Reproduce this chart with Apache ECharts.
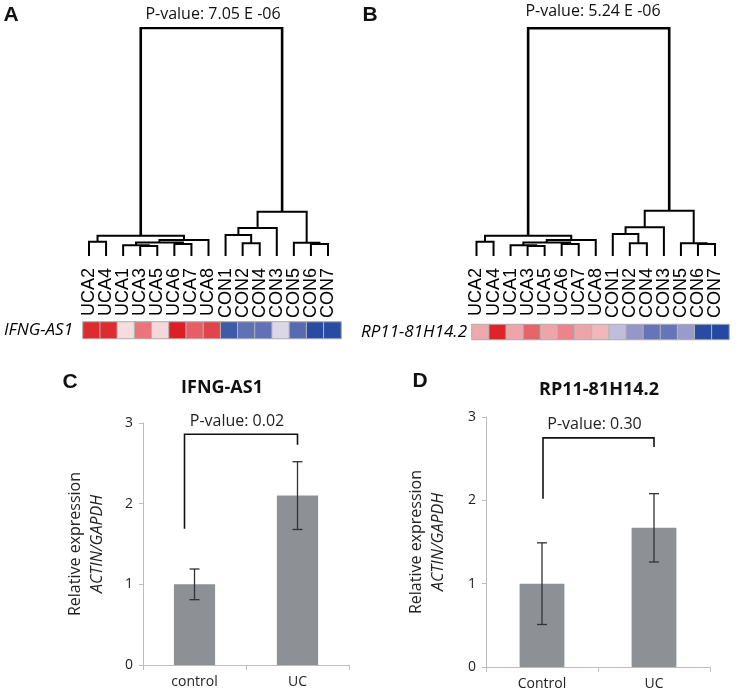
<!DOCTYPE html>
<html><head><meta charset="utf-8">
<script src="https://cdn.jsdelivr.net/npm/echarts@6/dist/echarts.min.js"></script>
<style>html,body{margin:0;padding:0;background:#fff}#c{width:737px;height:692px}</style>
</head><body><div id="c"></div>
<script>
// ---------- data ----------
const leafNames = ['UCA2','UCA4','UCA1','UCA3','UCA5','UCA6','UCA7','UCA8','CON1','CON2','CON4','CON3','CON5','CON6','CON7'];
// merges: [childA, childB, height]; node ids: leaves 0..14, merges 15..
const mergesA = [[3,4,10],[2,15,10.8],[5,6,12],[16,17,13.5],[0,1,14.3],[18,7,16],[19,20,20.3],[9,10,12.7],[8,22,21],[23,11,28],[13,14,12],[12,25,13.3],[24,26,44.3],[21,27,228]];
const mergesB = [[3,4,10],[2,15,10.8],[5,6,12],[16,17,13.5],[0,1,14.3],[18,7,16],[19,20,20.3],[9,10,12.7],[8,22,22],[23,11,28.7],[13,14,12],[12,25,12.7],[24,26,45.3],[21,27,227.7]];
const heatA = [1.9,1.9,0.2,1.2,0.25,2.0,1.4,1.65,-1.75,-1.4,-1.4,-0.25,-1.5,-1.95,-1.95];
const heatB = [0.7,1.95,0.75,1.35,0.75,1.05,0.75,0.55,-0.5,-0.9,-1.35,-1.35,-0.85,-1.95,-2.0];
const geneA = 'IFNG-AS1', geneB = 'RP11-81H14.2';
const pvalA = 'P-value: 7.05 E -06', pvalB = 'P-value: 5.24 E -06';
const catsC = ['control','UC'], catsD = ['Control','UC'];
const meanC = [1.0, 2.1], sdC = [0.19, 0.42];
const meanD = [1.0, 1.67], sdD = [0.49, 0.41];
const bracketC = [1.69, 2.86, 2.73];   // left leg bottom, top, right leg bottom
const bracketD = [2.02, 2.75, 2.64];
const pC = 'P-value: 0.02', pD = 'P-value: 0.30';
const yTicks = [0, 1, 2, 3];

// ---------- helpers ----------
function dendro(merges){
  const n = leafNames.length, pos = [], hgt = [], links = [];
  for (let i = 0; i < n; i++){ pos[i] = i; hgt[i] = 0; }
  merges.forEach((m, k) => {
    const [a, b, h] = m, id = n + k;
    const item = {coords: [[pos[a], hgt[a]], [pos[a], h], [pos[b], h], [pos[b], hgt[b]]]};
    if (k === merges.length - 1) item.lineStyle = {width: 2.6};
    links.push(item);
    pos[id] = (pos[a] + pos[b]) / 2; hgt[id] = h;
  });
  return links;
}
const FONT = 'Open Sans';
function dendroAxes(grid){
  return {
    x: {type:'value', gridIndex:grid, min:0, max:leafNames.length-1, show:false},
    lab: {type:'category', gridIndex:grid, data:leafNames, boundaryGap:false, position:'bottom',
        axisLine:{show:false}, axisTick:{show:false}, splitLine:{show:false},
        axisLabel:{interval:0, rotate:90, margin:12, fontSize:18,
                   fontFamily:'Liberation Sans', color:'#000'}},
    y: {type:'value', gridIndex:grid, min:0, max:228, show:false}
  };
}
function heatAxes(grid, gene, margin){
  return {
    x: {type:'category', gridIndex:grid, data:leafNames, show:false},
    y: {type:'category', gridIndex:grid, data:[gene],
        axisLine:{show:false}, axisTick:{show:false},
        axisLabel:{fontSize:17, fontStyle:'italic', fontFamily:FONT, color:'#000', margin:margin}}
  };
}
function barAxes(grid, cats, gap){
  return {
    x: {type:'category', gridIndex:grid, data:cats,
        axisLine:{lineStyle:{color:'#bdbdbd'}}, axisTick:{show:true, length:5, lineStyle:{color:'#bdbdbd'}},
        axisLabel:{fontSize:14, fontFamily:FONT, color:'#222', margin:10}},
    y: {type:'value', gridIndex:grid, min:yTicks[0], max:yTicks[yTicks.length-1], interval:1,
        splitLine:{show:false},
        axisLine:{show:true, lineStyle:{color:'#bdbdbd'}},
        axisTick:{show:true, length:4, lineStyle:{color:'#bdbdbd'}},
        axisLabel:{fontSize:14, fontFamily:FONT, color:'#222', margin:10},
        name:'{a|Relative expression}\n{b|ACTIN/GAPDH}', nameLocation:'middle', nameRotate:90, nameGap:gap,
        nameTextStyle:{rich:{a:{fontSize:16, fontFamily:FONT, color:'#222', lineHeight:22},
                             b:{fontSize:16, fontFamily:FONT, fontStyle:'italic', color:'#222', lineHeight:22}}}}
  };
}
function errSeries(ax, mean, sd){
  return {type:'custom', xAxisIndex:ax, yAxisIndex:ax, z:10, silent:true,
    data: mean.map((m, i) => [i, m - sd[i], m + sd[i]]),
    encode:{x:0, y:[1,2]},
    renderItem:(p, api) => {
      const lo = api.coord([api.value(0), api.value(1)]);
      const hi = api.coord([api.value(0), api.value(2)]);
      const w = 5, st = {stroke:'#333', lineWidth:1.3};
      return {type:'group', children:[
        {type:'line', shape:{x1:lo[0], y1:lo[1], x2:hi[0], y2:hi[1]}, style:st},
        {type:'line', shape:{x1:lo[0]-w, y1:lo[1], x2:lo[0]+w, y2:lo[1]}, style:st},
        {type:'line', shape:{x1:hi[0]-w, y1:hi[1], x2:hi[0]+w, y2:hi[1]}, style:st}]};
    }};
}
function bracketSeries(ax, br, label, dxL){
  return {type:'custom', xAxisIndex:ax, yAxisIndex:ax, z:10, silent:true,
    data:[[0, br[0], br[1], 1, br[2]]],
    encode:{x:[0,3], y:[1,2,4]},
    renderItem:(p, api) => {
      const a = api.coord([0, api.value(1)]), t0 = api.coord([0, api.value(2)]);
      const t1 = api.coord([1, api.value(2)]), b = api.coord([1, api.value(4)]);
      const xl = a[0] + dxL;
      return {type:'group', children:[
        {type:'polyline', shape:{points:[[xl, a[1]], [xl, t0[1]], [b[0], t1[1]], [b[0], b[1]]]},
         style:{stroke:'#111', lineWidth:1.6, fill:null}},
        {type:'text', x:(xl + b[0]) / 2 - 4, y:t0[1] - 13,
         style:{text:label, fontSize:16, fontFamily:FONT, fill:'#222', align:'center', verticalAlign:'middle',
                textAlign:'center', textVerticalAlign:'middle'}}]};
    }};
}
function txt(text, x, y, size, weight, family){
  return {type:'text', x:x, y:y, silent:true,
    style:{text:text, fontSize:size, fontWeight:weight || 'normal', fontFamily:family || FONT, fill:'#111',
           align:'center', verticalAlign:'middle', textAlign:'center', textVerticalAlign:'middle'}};
}

// ---------- axes ----------
const dA = dendroAxes(0), dB = dendroAxes(1);
const hA = heatAxes(2, geneA, 10), hB = heatAxes(3, geneB, 5);
const bC = barAxes(4, catsC, 35), bD = barAxes(5, catsD, 37);

const option = {
  animation:false,
  backgroundColor:'#fff',
  grid:[
    {left:89, right:737-328, top:28, height:228},
    {left:476.5, right:22, top:28, height:228},
    {left:83, right:737-341, top:322, height:16.5, show:true, borderColor:'#8a8a8a', borderWidth:1, backgroundColor:'transparent'},
    {left:472, right:737-729, top:324.5, height:15, show:true, borderColor:'#8a8a8a', borderWidth:1, backgroundColor:'transparent'},
    {left:143, right:737-349, top:423, bottom:692-665},
    {left:486, right:737-710, top:417, bottom:692-667}
  ],
  xAxis:[dA.x, dB.x, hA.x, hB.x, bC.x, bD.x, dA.lab, dB.lab],
  yAxis:[dA.y, dB.y, hA.y, hB.y, bC.y, bD.y],
  visualMap:[{type:'continuous', show:false, min:-2, max:2, seriesIndex:[2,3],
    inRange:{color:['#2449a0','#8a8cc4','#f7f0f2','#ec8a90','#dc1f26']}}],
  series:[
    {type:'lines', coordinateSystem:'cartesian2d', xAxisIndex:0, yAxisIndex:0, polyline:true, silent:true,
     data:dendro(mergesA), lineStyle:{color:'#000', width:2, opacity:1}},
    {type:'lines', coordinateSystem:'cartesian2d', xAxisIndex:1, yAxisIndex:1, polyline:true, silent:true,
     data:dendro(mergesB), lineStyle:{color:'#000', width:2, opacity:1}},
    {type:'heatmap', xAxisIndex:2, yAxisIndex:2, silent:true,
     data:heatA.map((v, i) => [i, 0, v]), itemStyle:{borderColor:'#b4b4b4', borderWidth:1}},
    {type:'heatmap', xAxisIndex:3, yAxisIndex:3, silent:true,
     data:heatB.map((v, i) => [i, 0, v]), itemStyle:{borderColor:'#b4b4b4', borderWidth:1}},
    {type:'bar', xAxisIndex:4, yAxisIndex:4, data:meanC, barWidth:'40%', itemStyle:{color:'#8d9094'}, silent:true},
    {type:'bar', xAxisIndex:5, yAxisIndex:5, data:meanD, barWidth:'40%', itemStyle:{color:'#8d9094'}, silent:true},
    errSeries(4, meanC, sdC),
    errSeries(5, meanD, sdD),
    bracketSeries(4, bracketC, pC, -10),
    bracketSeries(5, bracketD, pD, 1)
  ],
  graphic:[
    txt('A', 11, 15, 21, 'bold', 'Liberation Sans'),
    txt('B', 370, 15, 21, 'bold', 'Liberation Sans'),
    txt('C', 70, 382, 21, 'bold', 'Liberation Sans'),
    txt('D', 420, 381, 21, 'bold', 'Liberation Sans'),
    txt(pvalA, 213, 14, 16),
    txt(pvalB, 593, 11, 16),
    txt(geneA, 222, 388, 18, 'bold'),
    txt(geneB, 599, 390, 18, 'bold')
  ]
};
echarts.init(document.getElementById('c')).setOption(option);
</script>
</body></html>
